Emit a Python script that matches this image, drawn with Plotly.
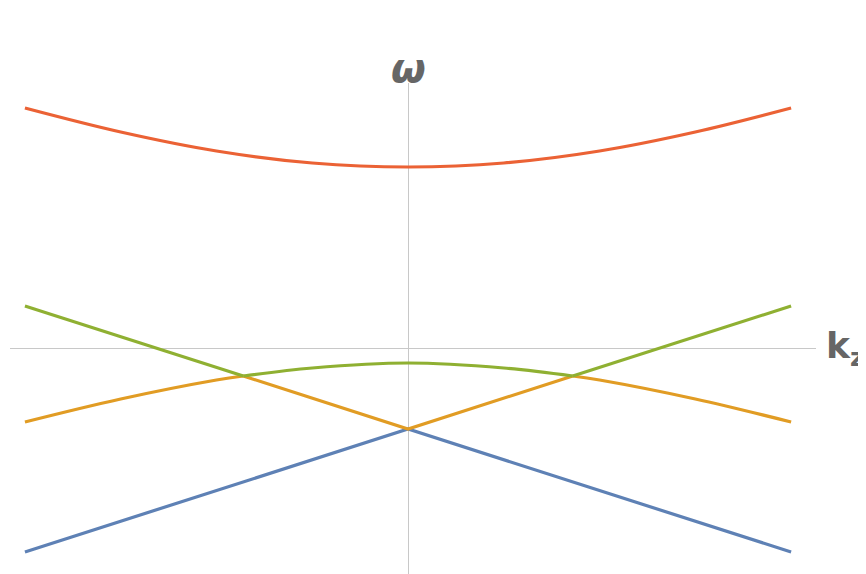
import plotly.graph_objects as go

# values (k_z, omega)
k_red = [-1, -0.75, -0.5, -0.25, 0, 0.25, 0.5, 0.75, 1]
w_red = [2.40, 2.16, 1.97, 1.85, 1.81, 1.85, 1.97, 2.16, 2.40]

k_curve = [-1, -0.75, -0.5, -0.43, -0.25, 0, 0.25, 0.43, 0.5, 0.75, 1]
w_curve = [-0.74, -0.51, -0.32, -0.28, -0.20, -0.15, -0.20, -0.28, -0.32, -0.51, -0.74]

k_line = [-1, -0.43, 0, 0.43, 1]
w_line = [0.42, -0.28, -0.81, -0.28, 0.42]

k_blue = [-1, 0, 1]
w_blue = [-2.04, -0.81, -2.04]

BLUE, ORANGE, GREEN, RED = '#5E81B5', '#E19C24', '#8FB032', '#EB6235'

fig = go.Figure()

def add(x, y, color, shape='linear'):
    fig.add_trace(go.Scatter(x=x, y=y, mode='lines', showlegend=False,
                             line=dict(color=color, width=3.2, shape=shape)))

add(k_blue, w_blue, BLUE)
# orange: curve outside, V-line in middle
add(k_curve[:4], w_curve[:4], ORANGE, 'spline')
add(k_curve[7:], w_curve[7:], ORANGE, 'spline')
add(k_line[1:4], w_line[1:4], ORANGE)
# green: line outside, curve in middle
add(k_line[:2], w_line[:2], GREEN)
add(k_line[3:], w_line[3:], GREEN)
add(k_curve[3:8], w_curve[3:8], GREEN, 'spline')
add(k_red, w_red, RED, 'spline')

axis_common = dict(showgrid=False, showticklabels=False, ticks='', showline=False,
                   zeroline=True, zerolinecolor='#c8c8c8', zerolinewidth=1.3)

fig.update_layout(
    width=866, height=574,
    margin=dict(l=2, r=58, t=75, b=6, autoexpand=False),
    plot_bgcolor='white', paper_bgcolor='white',
    xaxis=dict(range=[-1.039, 1.065], **axis_common),
    yaxis=dict(range=[-2.28, 2.65], **axis_common),
    annotations=[
        dict(text='<b><i>ω</i></b>', xref='x', yref='paper', x=0, y=1.0,
             yshift=40, showarrow=False, font=dict(size=40, color='#666666',
             family='DejaVu Sans')),
        dict(text='<b>k<sub>z</sub></b>', xref='paper', yref='y', x=1.0, y=0,
             xanchor='left', xshift=8, showarrow=False,
             font=dict(size=36, color='#666666', family='DejaVu Sans')),
    ],
)

fig.write_html("out.html")
